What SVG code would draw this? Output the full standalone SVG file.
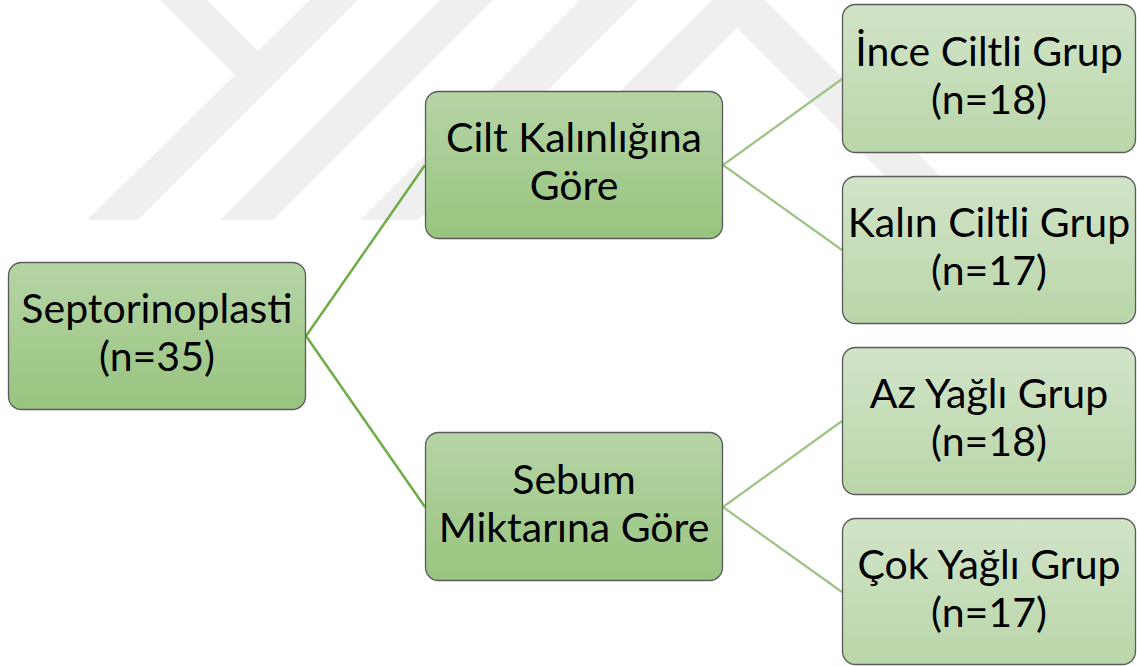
<svg xmlns="http://www.w3.org/2000/svg" width="1137" height="666" viewBox="0 0 1137 666">
<defs>
<linearGradient id="gMid" x1="0" y1="0" x2="0" y2="1">
<stop offset="0" stop-color="#b6d5a6"/>
<stop offset="1" stop-color="#98c47f"/>
</linearGradient>
<linearGradient id="gLeaf" x1="0" y1="0" x2="0" y2="1">
<stop offset="0" stop-color="#d2e4c8"/>
<stop offset="1" stop-color="#b9d6a9"/>
</linearGradient>
</defs>
<style>
.box{stroke:#5b5b5b;stroke-width:1.3}
.mid{fill:url(#gMid)}
.leaf{fill:url(#gLeaf)}
.t{font-family:Lato,"Open Sans","Liberation Sans",sans-serif;font-size:41px;fill:#000;text-anchor:middle}
.c1{stroke:#6fad48;stroke-width:2.5;fill:none}
.c2{stroke:#9cc485;stroke-width:2.2;fill:none}
.wm{fill:#efefef}
</style>
<rect width="1137" height="666" fill="#ffffff"/>
<g id="watermark">
<polygon class="wm" points="160,0 207,0 258,51 310,0 358,0 138,220 87,220 235,75"/>
<polygon class="wm" points="440,0 493,0 273,220 220,220"/>
<polygon class="wm" points="580,0 638,0 418,220 360,220"/>
<polygon class="wm" points="712,0 765,0 984,220 929,220 737,28 545,220 490,220"/>
</g>
<g id="connectors">
<line class="c1" x1="306" y1="336" x2="425" y2="165"/>
<line class="c1" x1="306" y1="336" x2="425" y2="507"/>
<line class="c2" x1="723" y1="165" x2="842" y2="79"/>
<line class="c2" x1="723" y1="165" x2="842" y2="250"/>
<line class="c2" x1="723" y1="507" x2="842" y2="421"/>
<line class="c2" x1="723" y1="507" x2="842" y2="592"/>
</g>
<g id="root">
<rect class="box mid" x="8.5" y="262.5" width="297" height="147" rx="13"/>
<text class="t" x="157" y="323">Septorinoplasti</text>
<text class="t" x="157" y="371">(n=35)</text>
</g>
<g id="cilt">
<rect class="box mid" x="425.5" y="91.5" width="297" height="147" rx="13"/>
<text class="t" x="574" y="152">Cilt Kalınlığına</text>
<text class="t" x="574" y="200">Göre</text>
</g>
<g id="sebum">
<rect class="box mid" x="425.5" y="432.5" width="297" height="148" rx="13"/>
<text class="t" x="574" y="494">Sebum</text>
<text class="t" x="574" y="542">Miktarına Göre</text>
</g>
<g id="ince">
<rect class="box leaf" x="842.5" y="4.5" width="293" height="148" rx="13"/>
<text class="t" x="989" y="66">İnce Ciltli Grup</text>
<text class="t" x="989" y="114">(n=18)</text>
</g>
<g id="kalin">
<rect class="box leaf" x="842.5" y="176.5" width="293" height="147" rx="13"/>
<text class="t" x="989" y="237">Kalın Ciltli Grup</text>
<text class="t" x="989" y="285">(n=17)</text>
</g>
<g id="az">
<rect class="box leaf" x="842.5" y="347.5" width="293" height="147" rx="13"/>
<text class="t" x="989" y="408">Az Yağlı Grup</text>
<text class="t" x="989" y="456">(n=18)</text>
</g>
<g id="cok">
<rect class="box leaf" x="842.5" y="518.5" width="293" height="146" rx="13"/>
<text class="t" x="989" y="579">Çok Yağlı Grup</text>
<text class="t" x="989" y="627">(n=17)</text>
</g>
</svg>
